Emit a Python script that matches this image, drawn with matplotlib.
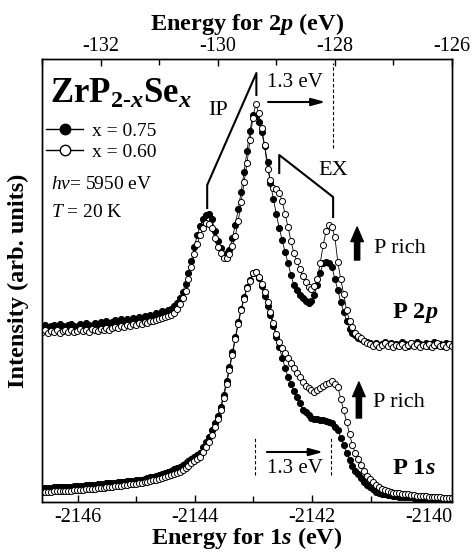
import numpy as np
import matplotlib.pyplot as plt
from matplotlib.lines import Line2D

plt.rcParams['font.family'] = 'Liberation Serif'
plt.rcParams['mathtext.fontset'] = 'custom'
plt.rcParams['mathtext.rm'] = 'Liberation Serif'
plt.rcParams['mathtext.it'] = 'Liberation Serif:italic'
plt.rcParams['mathtext.bf'] = 'Liberation Serif:bold'
plt.rcParams['mathtext.bfit'] = 'Liberation Serif:italic:bold'
plt.rcParams['axes.unicode_minus'] = False

# energy grids (eV), spectra sampled every 0.05 eV
E_STEP = 0.05
e2p = -133.0 + E_STEP * np.arange(141)
e1s = -2146.61 + E_STEP * np.arange(141)

# P 2p spectra (arb. units)
p2p_075 = [175, 177, 174, 176, 177, 175, 178, 176, 175, 177,
           178, 176, 175, 178, 177, 179, 177, 176, 179, 178,
           180, 178, 181, 179, 180, 182, 180, 183, 181, 183,
           182, 184, 183, 185, 184, 186, 185, 187, 186, 189,
           188, 191, 190, 192, 193, 196, 199, 204, 210, 218,
           229, 241, 255, 267, 276, 283, 287, 288, 283, 271,
           261, 254, 247, 249, 252, 264, 277, 293, 310, 330,
           351, 371, 387, 386, 380, 370, 356, 340, 319, 303,
           288, 274, 262, 250, 239, 227, 217, 212, 207, 204,
           201, 199, 201, 207, 217, 229, 239, 240, 239, 235,
           223, 212, 200, 190, 181, 173, 169, 167, 164, 163,
           161, 160, 159, 157, 159, 156, 158, 160, 157, 159,
           156, 158, 157, 160, 158, 156, 159, 157, 160, 158,
           157, 159, 156, 158, 160, 157, 158, 156, 159, 157, 158]
p2p_060 = [170, 172, 169, 171, 170, 172, 169, 171, 172, 170,
           172, 170, 171, 173, 171, 172, 170, 173, 172, 171,
           173, 172, 174, 172, 174, 175, 174, 176, 175, 177,
           176, 178, 177, 179, 178, 180, 179, 181, 181, 182,
           183, 184, 185, 186, 187, 189, 193, 198, 204, 211,
           223, 235, 248, 258, 267, 274, 279, 278, 274, 264,
           255, 249, 244, 244, 248, 256, 266, 281, 300, 320,
           339, 362, 384, 398, 389, 374, 357, 333, 322, 314,
           313, 309, 301, 288, 275, 261, 249, 241, 233, 226,
           220, 215, 213, 216, 223, 239, 257, 271, 277, 275,
           265, 240, 223, 208, 192, 181, 175, 169, 166, 164,
           161, 159, 158, 156, 158, 155, 157, 159, 156, 158,
           155, 157, 156, 158, 155, 157, 159, 156, 158, 155,
           157, 156, 158, 155, 157, 159, 156, 157, 155, 158, 156]

# P 1s spectra (arb. units)
p1s_075 = [14.0, 14.2, 14.3, 14.5, 14.6, 14.8, 14.9, 15.1, 15.2, 15.4,
           15.5, 15.7, 15.8, 16.0, 16.3, 16.6, 16.9, 17.2, 17.5, 17.8,
           18.1, 18.4, 18.6, 18.9, 19.2, 19.5, 19.8, 20.1, 20.4, 20.7,
           21.0, 21.3, 21.6, 21.9, 22.4, 23.1, 23.9, 24.6, 25.3, 26.1,
           26.8, 27.8, 29.0, 30.2, 31.4, 32.6, 33.7, 34.9, 36.8, 38.9,
           41.0, 43.0, 45.1, 47.1, 49.4, 54.8, 60.0, 65.2, 71.8, 79.3,
           86.5, 94.9, 107.5, 120.8, 134.9, 149.6, 164.7, 180.0, 193.5, 204.6,
           215.2, 222.0, 229.0, 230.0, 224.4, 215.9, 206.0, 196.4, 186.9, 176.3,
           165.2, 154.6, 144.4, 134.5, 124.8, 117.9, 111.3, 105.0, 98.8, 92.4,
           89.6, 87.0, 84.4, 83.5, 82.9, 82.3, 81.6, 80.7, 79.9, 78.9,
           75.5, 72.1, 64.5, 56.8, 48.6, 41.8, 36.4, 31.4, 27.6, 23.7,
           19.9, 17.3, 15.0, 12.8, 10.5, 8.8, 8.3, 7.8, 7.2, 6.7,
           6.2, 5.6, 5.1, 4.9, 4.8, 4.7, 4.6, 4.5, 4.4, 4.3,
           4.1, 4.0, 3.9, 3.8, 3.7, 3.6, 3.5, 3.4, 3.3, 3.1, 3.0]
p1s_060 = [10.0, 10.2, 10.3, 10.5, 10.6, 10.8, 10.9, 11.1, 11.2, 11.4,
           11.5, 11.7, 11.8, 12.0, 12.3, 12.6, 12.9, 13.2, 13.5, 13.8,
           14.1, 14.4, 14.6, 14.9, 15.3, 15.7, 16.1, 16.5, 16.9, 17.3,
           17.7, 18.1, 18.4, 18.8, 19.3, 19.9, 20.5, 21.1, 21.7, 22.3,
           22.8, 23.7, 24.8, 25.8, 26.8, 27.9, 28.9, 29.9, 32.0, 34.2,
           36.4, 38.6, 40.8, 43.0, 45.3, 50.4, 55.4, 60.3, 67.1, 75.2,
           83.1, 91.9, 104.5, 118.0, 132.5, 147.5, 162.7, 178.0, 191.6, 203.2,
           214.3, 221.5, 229.0, 230.0, 225.1, 218.0, 209.8, 200.1, 190.1, 179.3,
           168.1, 159.6, 154.0, 148.7, 143.7, 138.6, 133.7, 129.2, 124.8, 120.3,
           116.5, 114.5, 112.4, 110.4, 111.7, 113.8, 115.8, 117.7, 119.3, 120.9,
           118.0, 115.1, 103.4, 91.8, 80.2, 68.2, 56.6, 49.3, 42.7, 36.6,
           31.5, 26.4, 22.8, 19.9, 17.0, 14.6, 13.4, 12.2, 11.0, 9.9,
           9.5, 9.1, 8.7, 8.3, 8.0, 7.6, 7.2, 6.8, 6.4, 6.0,
           5.8, 5.6, 5.4, 5.3, 5.1, 4.9, 4.7, 4.5, 4.4, 4.2, 4.0]

# peak positions used for the IP / EX markers
ip_2p = [-130.18, -129.34]
ex_2p = [-128.95, -128.03]
peak_1s = -2142.98
SHIFT = 1.3

fig = plt.figure(figsize=(4.77, 5.53), dpi=100)
ax = fig.add_axes([0.0881, 0.0922, 0.8595, 0.8011])
ax2 = ax.twiny()

ax.set_xlim(-2146.61, -2139.61)
ax2.set_xlim(-133.0, -126.0)
ax.set_ylim(0, 443)

filled = dict(color='k', lw=0.6, marker='o', ms=4.4, mfc='k', mec='k', mew=0.7)
hollow = dict(color='k', lw=0.6, marker='o', ms=4.4, mfc='white', mec='k', mew=0.7)

ax.plot(e1s, p1s_075, **filled)
ax.plot(e1s, p1s_060, **hollow)
ax2.plot(e2p, p2p_075, **filled)
ax2.plot(e2p, p2p_060, **hollow)

# ticks
for a in (ax, ax2):
    for s in a.spines.values():
        s.set_linewidth(1.0)
ax.set_xticks([-2146, -2144, -2142, -2140])
ax.set_xticks([-2145, -2143, -2141], minor=True)
ax2.set_xticks([-132, -130, -128, -126])
ax2.set_xticks([-133, -131, -129, -127], minor=True)
ax.tick_params(axis='x', which='both', direction='in', top=False, labelsize=14.5, width=1.0, pad=4)
ax.tick_params(axis='x', which='major', length=5)
ax.tick_params(axis='x', which='minor', length=4)
ax2.tick_params(axis='x', which='both', direction='in', labelsize=14.5, width=1.0, pad=2)
ax2.tick_params(axis='x', which='major', length=5)
ax2.tick_params(axis='x', which='minor', length=4)
ax.set_yticks([])

ax.set_xlabel(r'Energy for 1$\mathbfit{s}$ (eV)', fontsize=17.5, fontweight='bold', labelpad=-1)
ax2.set_xlabel(r'Energy for 2$\mathbfit{p}$ (eV)', fontsize=17.5, fontweight='bold', labelpad=5)
ax.set_ylabel('Intensity (arb. units)', fontsize=17.5, fontweight='bold')
ax.yaxis.set_label_coords(-0.032, 0.5)

# compound name and conditions
ax.text(0.0195, 0.9007, r'$\mathbf{ZrP}_{\mathbf{2‐}\mathbfit{x}}\mathbf{Se}_{\mathbfit{x}}$',
        transform=ax.transAxes, fontsize=25, va='baseline', ha='left')
handles = [Line2D([], [], color='k', lw=1.0, marker='o', ms=7.5, mfc='k', mec='k'),
           Line2D([], [], color='k', lw=1.0, marker='o', ms=7.5, mfc='white', mec='k')]
ax.legend(handles, ['x = 0.75', 'x = 0.60'], loc='upper left', bbox_to_anchor=(0.0098, 0.858),
          frameon=False, fontsize=14, borderpad=0, borderaxespad=0, handlelength=1.9,
          handletextpad=0.45, labelspacing=0.2, numpoints=1)
ax.text(0.022, 0.7065, r'$h\nu$= 5950 eV', transform=ax.transAxes, fontsize=14, va='baseline')
ax.text(0.022, 0.643, r'$T$ = 20 K', transform=ax.transAxes, fontsize=14, va='baseline')

# IP and EX markers on the 2p spectrum
ax2.plot([ip_2p[0], ip_2p[0], ip_2p[1], ip_2p[1]], [294, 317, 429, 407], color='k', lw=1.5)
ax2.text(-129.99, 392, 'IP', fontsize=16, ha='center', va='center')
ax2.plot([ex_2p[0], ex_2p[0], ex_2p[1], ex_2p[1]], [329, 347, 305, 285], color='k', lw=1.5)
ax2.text(-128.03, 332, 'EX', fontsize=16, ha='center', va='center')

arrow_kw = dict(arrowstyle='-|>,head_length=0.55,head_width=0.15', color='k', lw=1.5,
                shrinkA=0, shrinkB=0, mutation_scale=15)
# 1.3 eV shift, 2p
ax2.plot([ip_2p[1] + SHIFT] * 2, [354, 439], color='k', lw=0.8, ls=(0, (3, 2)))
ax2.annotate('', xy=(-128.16, 400), xytext=(-129.14, 400), arrowprops=arrow_kw)
ax2.text(-128.69, 420, '1.3 eV', fontsize=15, ha='center', va='center')

# 1.3 eV shift, 1s
for xd in (peak_1s, peak_1s + SHIFT):
    ax.plot([xd, xd], [27, 65], color='k', lw=0.8, ls=(0, (3, 2)))
ax.annotate('', xy=(-2141.81, 50), xytext=(-2142.77, 50), arrowprops=arrow_kw)
ax.text(-2142.29, 34, '1.3 eV', fontsize=15, ha='center', va='center')

# P rich arrows
fat = dict(arrowstyle='simple,head_length=0.7,head_width=0.6,tail_width=0.25',
           color='k', shrinkA=0, shrinkB=0, mutation_scale=15)
ax2.annotate('', xy=(-127.62, 275), xytext=(-127.62, 242), arrowprops=fat)
ax2.text(-127.34, 254, 'P rich', fontsize=16, ha='left', va='center')
ax.annotate('', xy=(-2141.20, 120), xytext=(-2141.20, 84), arrowprops=fat)
ax.text(-2140.96, 100, 'P rich', fontsize=16, ha='left', va='center')

ax.text(0.8537, 0.4266, r'P 2$\mathbfit{p}$', transform=ax.transAxes, fontsize=17.5,
        fontweight='bold', ha='left', va='center')
ax.text(0.8537, 0.0767, r'P 1$\mathbfit{s}$', transform=ax.transAxes, fontsize=17.5,
        fontweight='bold', ha='left', va='center')

fig.savefig('out.png', dpi=100)
